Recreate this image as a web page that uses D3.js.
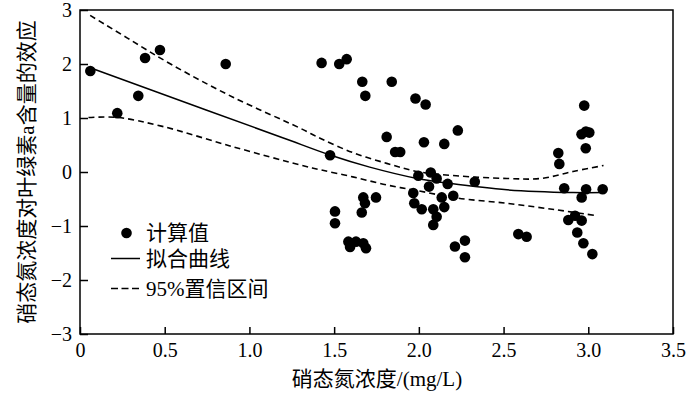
<!DOCTYPE html>
<html>
<head>
<meta charset="utf-8">
<script src="https://cdn.jsdelivr.net/npm/d3@7"></script>
<style>
  body { margin: 0; background: #fff; }
  text { font-family: "Liberation Serif", "Noto Sans CJK SC", serif; fill: #000; }
</style>
</head>
<body>
<svg id="chart" width="700" height="393"></svg>
<script>
// measured values (calculated effect)
const pointX = [0.061, 0.22, 0.344, 0.384, 0.472, 0.86, 1.426, 1.476, 1.53, 1.574,
    1.666, 1.684, 1.84, 1.98, 2.04, 1.81, 1.86, 1.89, 2.03, 2.15,
    2.23, 2.33, 1.997, 2.07, 2.105, 2.06, 2.17, 1.967, 2.135, 2.203,
    1.973, 2.017, 2.085, 2.15, 2.105, 2.085, 1.672, 1.747, 1.682, 1.663,
    1.505, 1.505, 1.584, 1.594, 1.629, 1.672, 1.688, 2.213, 2.272, 2.272,
    2.976, 2.96, 2.986, 3.006, 2.985, 2.823, 2.829, 2.858, 2.987, 3.085,
    2.961, 2.882, 2.922, 2.961, 2.935, 2.971, 3.024, 2.587, 2.636];
const pointY = [1.87, 1.09, 1.41, 2.11, 2.26, 2.0, 2.02, 0.31, 2.0, 2.09,
    1.67, 1.41, 1.67, 1.36, 1.25, 0.65, 0.37, 0.37, 0.55, 0.52,
    0.77, -0.18, -0.07, -0.01, -0.12, -0.27, -0.22, -0.39, -0.47, -0.44,
    -0.58, -0.69, -0.69, -0.65, -0.83, -0.98, -0.47, -0.47, -0.58, -0.75,
    -0.73, -0.95, -1.29, -1.39, -1.29, -1.32, -1.41, -1.38, -1.27, -1.58,
    1.23, 0.70, 0.75, 0.73, 0.44, 0.35, 0.15, -0.30, -0.32, -0.32,
    -0.47, -0.89, -0.81, -0.90, -1.12, -1.32, -1.52, -1.15, -1.20];

// fitted curve
const fitX = [0.06, 0.7, 1.2, 1.48, 1.71, 1.99, 2.18, 2.52, 2.91, 3.09];
const fitY = [1.93, 1.20, 0.63, 0.31, 0.09, -0.12, -0.21, -0.33, -0.38, -0.38];

// 95% confidence band
const upperX = [0.06, 0.28, 0.54, 0.9, 1.3, 1.42, 1.61, 1.81, 1.99, 2.22, 2.52, 2.72, 2.91, 3.09];
const upperY = [2.90, 2.48, 1.99, 1.39, 0.81, 0.62, 0.36, 0.16, 0.01, -0.07, -0.12, -0.12, 0.01, 0.12];
const lowerX = [0.05, 0.22, 0.48, 0.9, 1.3, 1.42, 1.61, 1.81, 2.0, 2.22, 2.52, 2.81, 3.05];
const lowerY = [1.01, 1.01, 0.85, 0.47, 0.13, 0.04, -0.09, -0.24, -0.35, -0.48, -0.58, -0.70, -0.81];

const xTicks = [0, 0.5, 1.0, 1.5, 2.0, 2.5, 3.0, 3.5];
const xTickLabels = ["0", "0.5", "1.0", "1.5", "2.0", "2.5", "3.0", "3.5"];
const yTicks = [-3, -2, -1, 0, 1, 2, 3];
const yTickLabels = ["\u22123", "\u22122", "\u22121", "0", "1", "2", "3"];

const legendLabels = ["计算值", "拟合曲线", "95%置信区间"];
const xTitle = "硝态氮浓度/(mg/L)";
const yTitle = "硝态氮浓度对叶绿素a含量的效应";

const plotLeft = 80, plotRight = 673, plotTop = 10, plotBottom = 334;

const svg = d3.select("#chart");
svg.append("rect").attr("width", 700).attr("height", 393).attr("fill", "#fff");

const x = d3.scaleLinear().domain([0, 3.5]).range([plotLeft, plotRight]);
const y = d3.scaleLinear().domain([-3, 3]).range([plotBottom, plotTop]);

// axes, ticks pointing inward
let xAxis = svg.append("g")
    .attr("transform", "translate(0," + plotBottom + ")")
    .call(d3.axisBottom(x).tickValues(xTicks)
        .tickFormat((d, i) => xTickLabels[i])
        .tickSizeInner(-7).tickSizeOuter(0).tickPadding(9));
let yAxis = svg.append("g")
    .attr("transform", "translate(" + plotLeft + ",0)")
    .call(d3.axisLeft(y).tickValues(yTicks)
        .tickFormat((d, i) => yTickLabels[i])
        .tickSizeInner(-8).tickSizeOuter(0).tickPadding(8));
[xAxis, yAxis].forEach(g => {
    g.select(".domain").remove();
    g.selectAll(".tick line").attr("stroke", "#000").attr("stroke-width", 1.5);
    g.selectAll(".tick text").style("font-size", "20px").attr("fill", "#000");
});

// frame
svg.append("rect")
    .attr("x", plotLeft).attr("y", plotTop)
    .attr("width", plotRight - plotLeft).attr("height", plotBottom - plotTop)
    .attr("fill", "none").attr("stroke", "#000").attr("stroke-width", 1.5);

const line = d3.line()
    .x(d => x(d[0]))
    .y(d => y(d[1]))
    .curve(d3.curveCatmullRom.alpha(0.5));

svg.append("path")
    .datum(d3.zip(upperX, upperY))
    .attr("d", line)
    .attr("fill", "none").attr("stroke", "#000")
    .attr("stroke-width", 1.6).attr("stroke-dasharray", "6,4");
svg.append("path")
    .datum(d3.zip(lowerX, lowerY))
    .attr("d", line)
    .attr("fill", "none").attr("stroke", "#000")
    .attr("stroke-width", 1.6).attr("stroke-dasharray", "6,4");
svg.append("path")
    .datum(d3.zip(fitX, fitY))
    .attr("d", line)
    .attr("fill", "none").attr("stroke", "#000").attr("stroke-width", 1.5);

svg.append("g")
    .selectAll("circle")
    .data(d3.zip(pointX, pointY))
    .enter()
    .append("circle")
    .attr("cx", d => x(d[0]))
    .attr("cy", d => y(d[1]))
    .attr("r", 5.3)
    .attr("fill", "#000");

// legend
let legend = svg.append("g");
let ly = [233, 258.5, 288.5];
legend.append("circle").attr("cx", 126.5).attr("cy", ly[0]).attr("r", 5.3).attr("fill", "#000");
legend.append("line").attr("x1", 111).attr("x2", 140).attr("y1", ly[1]).attr("y2", ly[1])
    .attr("stroke", "#000").attr("stroke-width", 1.5);
legend.append("line").attr("x1", 111).attr("x2", 140).attr("y1", ly[2]).attr("y2", ly[2])
    .attr("stroke", "#000").attr("stroke-width", 1.5).attr("stroke-dasharray", "7,3.5");
legend.selectAll("text")
    .data(legendLabels)
    .enter()
    .append("text")
    .attr("x", 146)
    .attr("y", (d, i) => ly[i])
    .attr("dominant-baseline", "central")
    .style("font-size", "21px")
    .text(d => d);

// axis titles
svg.append("text")
    .attr("x", 377).attr("y", 379)
    .attr("text-anchor", "middle")
    .attr("dominant-baseline", "central")
    .style("font-size", "21px")
    .text(xTitle);
svg.append("text")
    .attr("transform", "translate(27,172) rotate(-90)")
    .attr("text-anchor", "middle")
    .attr("dominant-baseline", "central")
    .style("font-size", "21px")
    .text(yTitle);
</script>
</body>
</html>
